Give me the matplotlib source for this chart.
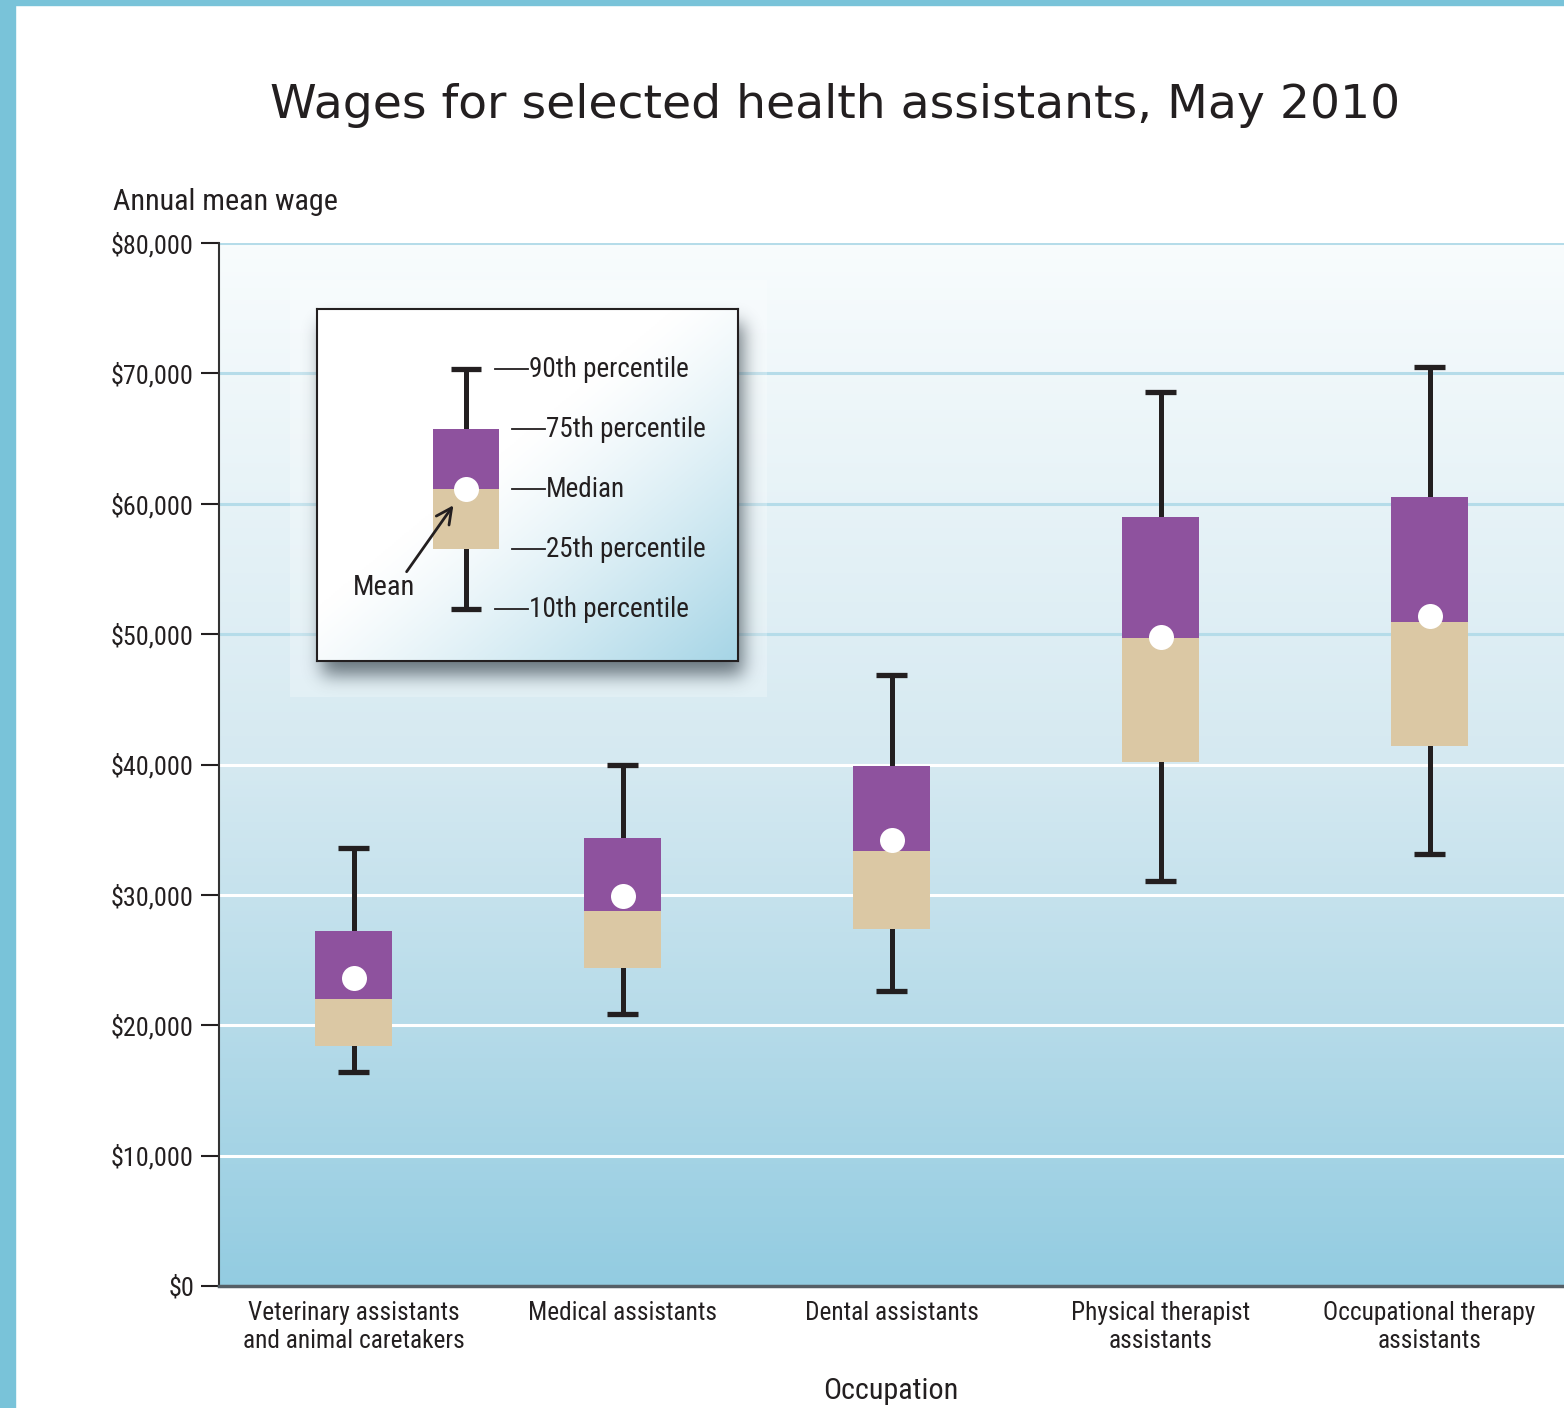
import matplotlib
matplotlib.use("Agg")
import matplotlib.pyplot as plt
import numpy as np
from matplotlib.colors import LinearSegmentedColormap, to_rgb
from matplotlib.patches import Rectangle

# wage percentiles, May 2010
occupations = ["Veterinary assistants\nand animal caretakers", "Medical assistants",
               "Dental assistants", "Physical therapist\nassistants",
               "Occupational therapy\nassistants"]
p10 = [16400, 20900, 22600, 31100, 33100]
p25 = [18400, 24400, 27400, 40200, 41400]
median = [22000, 28800, 33400, 49700, 50900]
p75 = [27200, 34400, 39900, 59000, 60500]
p90 = [33600, 40000, 46900, 68600, 70500]
mean = [23600, 29900, 34200, 49800, 51400]

# sample box drawn inside the key
key_vals = [51900, 56500, 61100, 65700, 70300]   # p10, p25, median, p75, p90
key_mean = 61100
key_labels = ["10th percentile", "25th percentile", "Median", "75th percentile", "90th percentile"]

yticks = list(range(0, 80001, 10000))

PURPLE = "#8e529e"
TAN = "#dbc8a4"
INK = "#231f20"
TEAL = "#79c3d9"
NARROW = ["Roboto Condensed", "Roboto", "DejaVu Sans"]

W, H = 1564, 1408
fig = plt.figure(figsize=(W / 100, H / 100), dpi=100)
fig.patch.set_facecolor("white")

# frame strips
fig.patches.append(Rectangle((0, 0), 15 / W, 1, transform=fig.transFigure, color=TEAL, zorder=0))
fig.patches.append(Rectangle((0, 1 - 5 / H), 1, 5 / H, transform=fig.transFigure, color=TEAL, zorder=0))

AX_L, AX_R, AX_T, AX_B = 219, 1564, 243, 1286
ax = fig.add_axes([AX_L / W, 1 - AX_B / H, (AX_R - AX_L) / W, (AX_B - AX_T) / H])
ax.set_xlim(-0.5, 4.5)
ax.set_ylim(0, 80000)

# vertical background gradient
bg = LinearSegmentedColormap.from_list(
    "bg", [(0, "#93cce1"), (0.25, "#b6dbe9"), (0.5, "#d5e9f1"), (1, "#f8fcfd")])
grad = np.linspace(0, 1, 256).reshape(-1, 1)
ax.imshow(grad, cmap=bg, origin="lower", aspect="auto",
          extent=[-0.5, 4.5, 0, 80000], zorder=0)

for v in yticks[1:]:
    ax.axhline(v, color="#b5dce9" if v >= 50000 else "white", lw=2.2, zorder=1)

CAP_W = 0.112


def draw_box(a, x, lo, q1, med, q3, hi, mu, width=0.283):
    a.plot([x, x], [lo, hi], color=INK, lw=3.6, solid_capstyle="butt", zorder=3)
    for v in (lo, hi):
        a.plot([x - CAP_W / 2, x + CAP_W / 2], [v, v], color=INK, lw=3.8,
               solid_capstyle="butt", zorder=3)
    a.bar(x, med - q1, bottom=q1, width=width, color=TAN, zorder=4)
    a.bar(x, q3 - med, bottom=med, width=width, color=PURPLE, zorder=4)
    a.plot(x, mu, "o", ms=18, color="white", mec="none", zorder=5)


for i in range(len(occupations)):
    draw_box(ax, i, p10[i], p25[i], median[i], p75[i], p90[i], mean[i])

ax.set_xticks(range(len(occupations)))
ax.set_xticklabels(occupations, family=NARROW, fontsize=18.3, color=INK, linespacing=1.2)
ax.tick_params(axis="x", length=0, pad=11)
ax.set_yticks(yticks)
ax.set_yticklabels([f"${v:,}" for v in yticks], family=NARROW, fontsize=18.8, color=INK)
ax.tick_params(axis="y", direction="out", length=13, width=1.5, color=INK, pad=5)
for s in ("top", "right"):
    ax.spines[s].set_visible(False)
ax.spines["left"].set_color("#333333")
ax.spines["left"].set_linewidth(1.5)
ax.spines["bottom"].set_color("#555f66")
ax.spines["bottom"].set_linewidth(2.5)
ax.spines["left"].set_zorder(6)
ax.spines["bottom"].set_zorder(6)

fig.text(835 / W, 1 - 106 / H, "Wages for selected health assistants, May 2010",
         ha="center", va="center", fontsize=34, color=INK, family="DejaVu Sans")
fig.text(113 / W, 1 - 202 / H, "Annual mean wage", ha="left", va="center",
         fontsize=21.7, color=INK, family=NARROW)
fig.text(891 / W, 1 - 1391 / H, "Occupation", ha="center", va="center",
         fontsize=21.7, color=INK, family=NARROW)

# key box: faint halo + blurred drop shadow
KL, KR, KT, KB = 317, 738, 309, 661
ax.add_patch(Rectangle((290 / W, 1 - 697 / H), 477 / W, 417 / H, transform=fig.transFigure,
                       color="white", alpha=0.25, lw=0, zorder=2, clip_on=False))

pad = 40
sw, sh = KR - KL + 2 * pad, KB - KT + 2 * pad
mask = np.zeros((sh, sw))
mask[pad + 14:pad + 14 + (KB - KT), pad + 5:pad + 5 + (KR - KL)] = 1.0
kern = np.exp(-0.5 * (np.arange(-27, 28) / 9.0) ** 2)
kern /= kern.sum()
mask = np.apply_along_axis(lambda r: np.convolve(r, kern, mode="same"), 1, mask)
mask = np.apply_along_axis(lambda c: np.convolve(c, kern, mode="same"), 0, mask)
shadow = np.zeros((sh, sw, 4))
shadow[..., :3] = to_rgb("#26343d")
shadow[..., 3] = mask * 0.65
fig.figimage(shadow, xo=KL - pad, yo=H - KB - pad, origin="upper", zorder=2)

px_x = lambda p: -0.5 + (p - AX_L) / (AX_R - AX_L) * 5
px_y = lambda p: (AX_B - p) / (AX_B - AX_T) * 80000

lax = fig.add_axes([KL / W, 1 - KB / H, (KR - KL) / W, (KB - KT) / H], zorder=3)
lax.set_xlim(px_x(KL), px_x(KR))
lax.set_ylim(px_y(KB), px_y(KT))
uu, vv = np.meshgrid(np.linspace(0, 1, 200), np.linspace(0, 1, 200))
t = np.clip((uu + vv - 0.85) / 1.15, 0, 1) ** 1.2
c0, c1 = np.array(to_rgb("#ffffff")), np.array(to_rgb("#a6d5e6"))
img = c0 + (c1 - c0) * t[..., None]
lax.imshow(img, origin="upper", aspect="auto",
           extent=[px_x(KL), px_x(KR), px_y(KB), px_y(KT)], zorder=0)
lax.set_xticks([])
lax.set_yticks([])
for s in lax.spines.values():
    s.set_color(INK)
    s.set_linewidth(1.5)

kx = px_x(466)
draw_box(lax, kx, *key_vals, key_mean, width=0.245)
for v, lab in zip(key_vals, key_labels):
    outer = lab.startswith(("10th", "90th"))
    d0, d1 = (px_x(495), px_x(528)) if outer else (px_x(512), px_x(545))
    lax.plot([d0, d1], [v, v], color=INK, lw=1.3, zorder=3)
    lax.text(d1 + 0.004, v, lab, ha="left", va="center", fontsize=19.5,
             color=INK, family=NARROW)

lax.annotate("", xy=(px_x(455), px_y(503)), xytext=(px_x(405), px_y(574)),
             arrowprops=dict(arrowstyle="->", color=INK, lw=2, mutation_scale=28),
             zorder=6)
lax.text(px_x(415), px_y(587), "Mean", ha="right", va="center", fontsize=20.5,
         color=INK, family=NARROW)

fig.savefig("out.png", dpi=100)
